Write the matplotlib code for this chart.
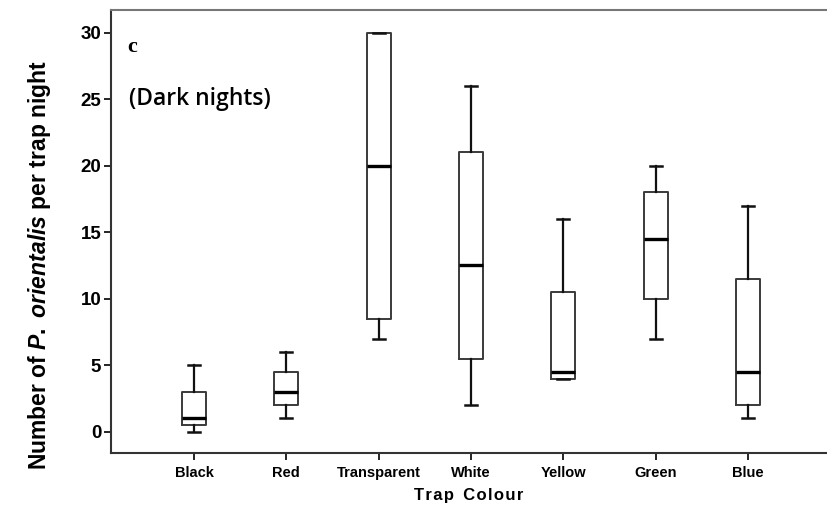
import matplotlib
matplotlib.use("Agg")
import matplotlib.pyplot as plt

# Box plot values
categories = ["Black", "Red", "Transparent", "White", "Yellow", "Green", "Blue"]
whisker_low = [0, 1, 7, 2, 4, 7, 1]
q1 = [0.5, 2, 8.5, 5.5, 4, 10, 2]
median = [1, 3, 20, 12.5, 4.5, 14.5, 4.5]
q3 = [3, 4.5, 30, 21, 10.5, 18, 11.5]
whisker_high = [5, 6, 30, 26, 16, 20, 17]
y_ticks = [0, 5, 10, 15, 20, 25, 30]

plt.rcParams["font.family"] = "Liberation Sans"
plt.rcParams["mathtext.fontset"] = "custom"
plt.rcParams["mathtext.it"] = "Liberation Sans:italic:bold"
plt.rcParams["mathtext.rm"] = "Liberation Sans:bold"

fig = plt.figure(figsize=(8.27, 5.07), dpi=100)
ax = fig.add_axes([0.1342, 0.1065, 0.8658, 0.8735])

stats = []
for i, name in enumerate(categories):
    stats.append({
        "label": name,
        "whislo": whisker_low[i],
        "q1": q1[i],
        "med": median[i],
        "q3": q3[i],
        "whishi": whisker_high[i],
        "fliers": [],
    })

positions = list(range(1, len(categories) + 1))
ax.bxp(
    stats,
    positions=positions,
    widths=0.26,
    showfliers=False,
    boxprops=dict(color="#3a3a3a", linewidth=1.4),
    whiskerprops=dict(color="#111111", linewidth=1.6),
    capprops=dict(color="#111111", linewidth=1.8),
    medianprops=dict(color="#000000", linewidth=2.4),
    capwidths=0.13,
)

ax.set_xlim(0.101, 7.856)
ax.set_ylim(-1.6, 31.7)
ax.set_yticks(y_ticks)
ax.set_xticks(positions)
ax.set_xticklabels(categories, fontsize=10.5, fontweight="bold")
ax.tick_params(axis="y", labelsize=13.5, length=5, width=1.2, pad=2)
ax.tick_params(axis="x", length=5, width=1.2, pad=4)
for lab in ax.get_yticklabels():
    lab.set_fontweight("bold")

ax.spines["right"].set_visible(False)
ax.spines["top"].set_color("#777777")
ax.spines["top"].set_linewidth(1.5)
ax.spines["left"].set_color("#333333")
ax.spines["left"].set_linewidth(1.5)
ax.spines["bottom"].set_color("#333333")
ax.spines["bottom"].set_linewidth(1.5)

# letter-spaced axis title, hair spaces between letters
ax.set_xlabel("\u200a".join("Trap") + "  " + "\u200a".join("Colour"),
              fontsize=12, fontweight="bold", labelpad=6)

fig.text(40 / 827, 1 - 265 / 507, r"Number of $P.$ $orientalis$ per trap night",
         rotation=90, fontsize=16.5, fontweight="bold", ha="center", va="center")

fig.text(127 / 827, 1 - 47 / 507, "c", family="Liberation Serif",
         fontsize=16, fontweight="bold", ha="left", va="center")
fig.text(129 / 827, 1 - 99 / 507, "(Dark nights)", family="Open Sans",
         fontsize=16.5, fontweight="semibold", ha="left", va="center")

fig.savefig("out.png", dpi=100)
